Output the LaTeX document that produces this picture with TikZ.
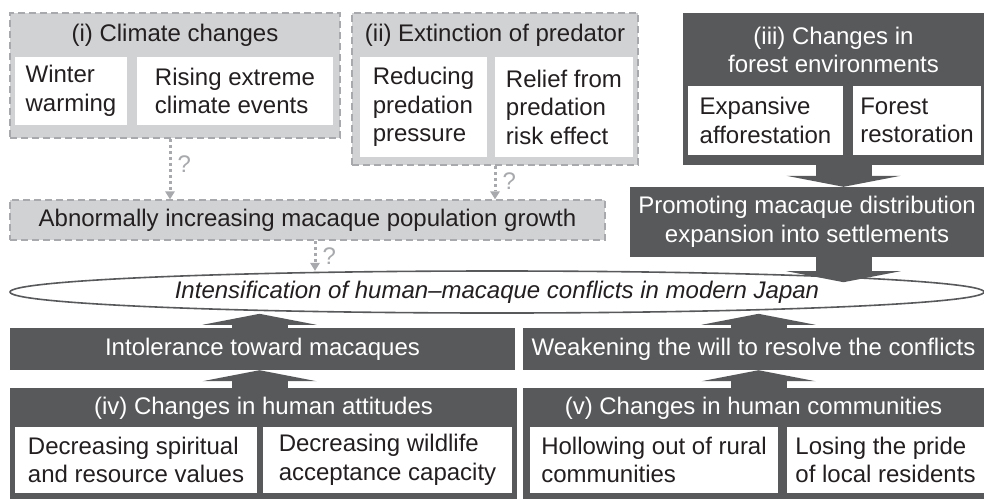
\documentclass[tikz,border=0pt]{standalone}
\usepackage{fontspec}
\setmainfont{Liberation Sans}
\usetikzlibrary{arrows.meta,shapes.geometric}
\definecolor{boxdark}{HTML}{58595B}
\definecolor{boxlight}{HTML}{D1D2D4}
\definecolor{dashgray}{HTML}{A7A9AC}
\definecolor{textdark}{HTML}{231F20}
\tikzset{>=stealth,
  every node/.style={font=\fontsize{24}{28.5}\selectfont, inner sep=0pt, text=textdark},
  lightbox/.style={draw=dashgray, fill=boxlight, line width=1.5pt, dash pattern=on 7pt off 4pt},
  darkbox/.style={fill=boxdark, text=white, align=center},
  itembox/.style={fill=white, align=left},
  bigarrow/.style={draw=boxdark, line width=56pt, -{Triangle[width=114pt, length=11pt, line width=0pt]}},
  qarrow/.style={draw=dashgray, line width=3pt, dash pattern=on 3pt off 3pt, -{Triangle[width=10pt, length=8pt, line width=0pt]}},
  qmark/.style={text=dashgray, anchor=west, xshift=6pt}}

\begin{document}
\begin{tikzpicture}[x=1pt, y=-1pt]
\useasboundingbox (0,0) rectangle (984,499);
% (i) climate
\node[lightbox, minimum width=330pt, minimum height=125pt] (clim) at (175,75.5) {};
\node at (175,35) {(i) Climate changes};
\node[itembox, minimum width=112pt, minimum height=68pt] (warming) at (71,91) {Winter\\warming};
\node[itembox, minimum width=196pt, minimum height=68pt] (extreme) at (235,91) {Rising extreme\\climate events};
% (ii) predator
\node[lightbox, minimum width=286pt, minimum height=152pt] (pred) at (495,89) {};
\node at (495,35) {(ii) Extinction of predator};
\node[itembox, minimum width=127pt, minimum height=100pt] (reducing) at (423.5,107) {Reducing\\predation\\pressure};
\node[itembox, minimum width=138pt, minimum height=100pt] (relief) at (564,107) {Relief from\\predation\\risk effect};
% (iii) forest
\node[darkbox, minimum width=301pt, minimum height=152pt] (forest) at (833.5,89) {};
\node[text=white, align=center] at (833.5,50) {(iii) Changes in\\forest environments};
\node[itembox, minimum width=155pt, minimum height=69pt] (afforest) at (765.5,120.5) {Expansive\\afforestation};
\node[itembox, minimum width=128pt, minimum height=69pt] (restore) at (917,120.5) {Forest\\restoration};
\node[darkbox, minimum width=354pt, minimum height=70pt] (promo) at (807,222) {Promoting macaque distribution\\expansion into settlements};
% population growth
\node[lightbox, minimum width=595pt, minimum height=40pt] (growth) at (307.5,220) {Abnormally increasing macaque population growth};
% conflicts
\node[ellipse, draw=boxdark, line width=1.6pt, minimum width=974pt, minimum height=42pt] (conflict) at (497,292) {\itshape Intensification of human–macaque conflicts in modern Japan};
% (iv) attitudes
\node[darkbox, minimum width=505pt, minimum height=42pt] (intol) at (262.5,349) {Intolerance toward macaques};
\node[darkbox, minimum width=507pt, minimum height=111pt] (attit) at (263.5,443.5) {};
\node[text=white] at (263.5,408) {(iv) Changes in human attitudes};
\node[itembox, minimum width=242pt, minimum height=66pt] (spiritual) at (136,460) {Decreasing spiritual\\and resource values};
\node[itembox, minimum width=249pt, minimum height=66pt] (acceptance) at (387.5,460) {Decreasing wildlife\\acceptance capacity};
% (v) communities
\node[darkbox, minimum width=461pt, minimum height=42pt] (weak) at (753.5,349) {Weakening the will to resolve the conflicts};
\node[darkbox, minimum width=461pt, minimum height=111pt] (commu) at (753.5,443.5) {};
\node[text=white] at (753.5,408) {(v) Changes in human communities};
\node[itembox, minimum width=248pt, minimum height=66pt] (hollowing) at (654,460) {Hollowing out of rural\\communities};
\node[itembox, minimum width=197pt, minimum height=66pt] (pride) at (885.5,460) {Losing the pride\\of local residents};
% arrows
\draw[qarrow] ([xshift=-5pt]clim.south) -- ([xshift=-5pt]clim.south |- growth.north) node[qmark, pos=0.42] {?};
\draw[qarrow] (pred.south) -- (pred.south |- growth.north) node[qmark, pos=0.45] {?};
\draw[qarrow] ([xshift=7.5pt]growth.south) -- ++(0,30) node[qmark, midway] {?};
\draw[bigarrow] ([xshift=10pt]forest.south) -- ([xshift=10pt]forest.south |- promo.north);
\draw[bigarrow] ([xshift=36.5pt]promo.south) -- ++(0,25);
\draw[bigarrow] ([xshift=-3pt]intol.north) -- ++(0,-14);
\draw[bigarrow] ([xshift=-4pt]attit.north) -- ([xshift=-4pt]attit.north |- intol.south);
\draw[bigarrow] ([xshift=5pt]weak.north) -- ++(0,-14);
\draw[bigarrow] ([xshift=5pt]commu.north) -- ([xshift=5pt]commu.north |- weak.south);
\end{tikzpicture}
\end{document}
